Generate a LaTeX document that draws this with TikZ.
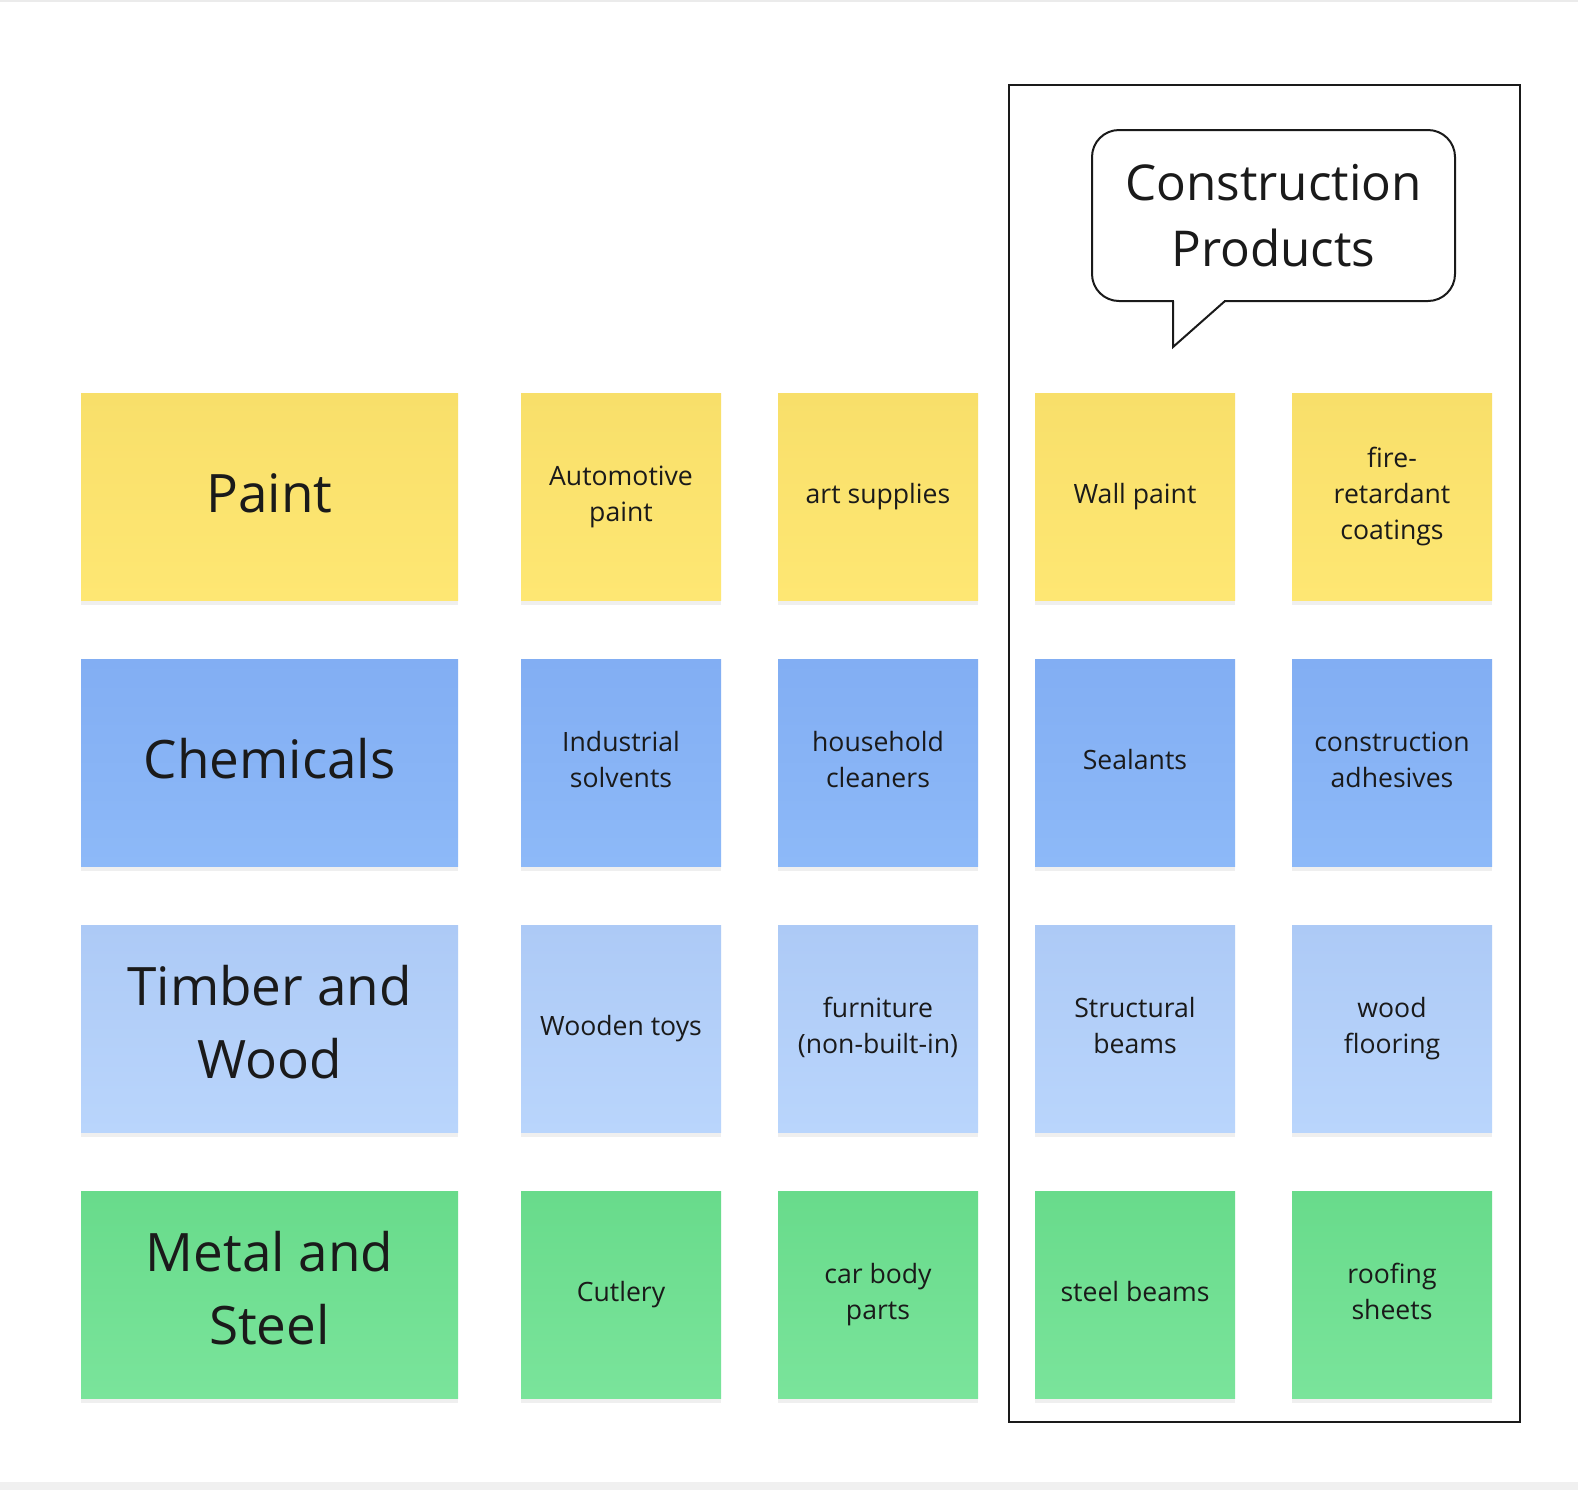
\documentclass[tikz,border=0pt]{standalone}
\usepackage{fontspec}
\setmainfont{Open Sans}
\usepackage{tikz}
\usetikzlibrary{shadows}

\definecolor{ink}{HTML}{1A1A1A}
\definecolor{ylwtop}{HTML}{F8DF6A}
\definecolor{ylwbot}{HTML}{FEE773}
\definecolor{blutop}{HTML}{82AEF3}
\definecolor{blubot}{HTML}{8DB9F8}
\definecolor{lbltop}{HTML}{ADCAF6}
\definecolor{lblbot}{HTML}{B9D5FC}
\definecolor{grntop}{HTML}{68DB8B}
\definecolor{grnbot}{HTML}{7AE49B}

\begin{document}
\begin{tikzpicture}[x=0.5pt, y=-0.5pt,
    note/.style={minimum width=100pt, minimum height=103.5pt, inner sep=0pt,
        align=center, text=ink, top color=#1top, bottom color=#1bot,
        font=\fontsize{13.3}{18}\selectfont,
        execute at begin node={\vphantom{Apy}}, execute at end node={\vphantom{Apy}},
        drop shadow={shadow xshift=0pt, shadow yshift=-2.5pt, opacity=0.12}},
    bignote/.style={note=#1, minimum width=188.5pt, font=\fontsize{26.5}{36.5}\selectfont,
        execute at begin node={\rule{0pt}{22pt}}},
    bubble/.style={draw=ink, line width=1pt, fill=white, rounded corners=13.5pt,
        minimum width=181.5pt, minimum height=85.5pt, align=center, text=ink,
        font=\fontsize{24.7}{33}\selectfont}]
    % 画布边界
    \useasboundingbox (0,0) rectangle (1578,1490);
    \fill[white] (0,0) rectangle (1578,1490);
    \fill[black!8] (0,0) rectangle (1578,2);
    \fill[black!6] (0,1482) rectangle (1578,1490);

    % 右侧框
    \draw[ink, line width=1.2pt] (1009,85) rectangle (1520,1422);

    % 对话气泡
    \node[bubble] (cp) at (1273.5,215.5) {Construction\\Products};
    \coordinate (tip) at (1173,347);
    \fill[white] (1174,298) rectangle (1224,303);
    \draw[ink, line width=1pt, line join=miter] (1173,301) -- (tip) -- (1225,301);

    % 分类便签
    \foreach \name/\txt/\clr [count=\i] in {paint/Paint/ylw, chem/Chemicals/blu,
            timber/{Timber and\\Wood}/lbl, metal/{Metal and\\Steel}/grn} {
        \node[bignote=\clr] (\name) at (269.5, 230.5+266*\i) {\txt};
    }

    % 产品便签
    \foreach \txt [count=\j] in {{Automotive\\paint}, art supplies, Wall paint,
            {fire-\\retardant\\coatings}} {
        \node[note=ylw] (paint\j) at (364+257*\j, 496.5) {\txt};
    }
    \foreach \txt [count=\j] in {{Industrial\\solvents}, {household\\cleaners},
            Sealants, {construction\\adhesives}} {
        \node[note=blu] (chem\j) at (364+257*\j, 762.5) {\txt};
    }
    \foreach \txt [count=\j] in {Wooden toys, {furniture\\(non-built-in)},
            {Structural\\beams}, {wood\\flooring}} {
        \node[note=lbl] (timber\j) at (364+257*\j, 1028.5) {\txt};
    }
    \foreach \txt [count=\j] in {Cutlery, {car body\\parts}, steel beams,
            {roofing\\sheets}} {
        \node[note=grn] (metal\j) at (364+257*\j, 1294.5) {\txt};
    }
\end{tikzpicture}
\end{document}
